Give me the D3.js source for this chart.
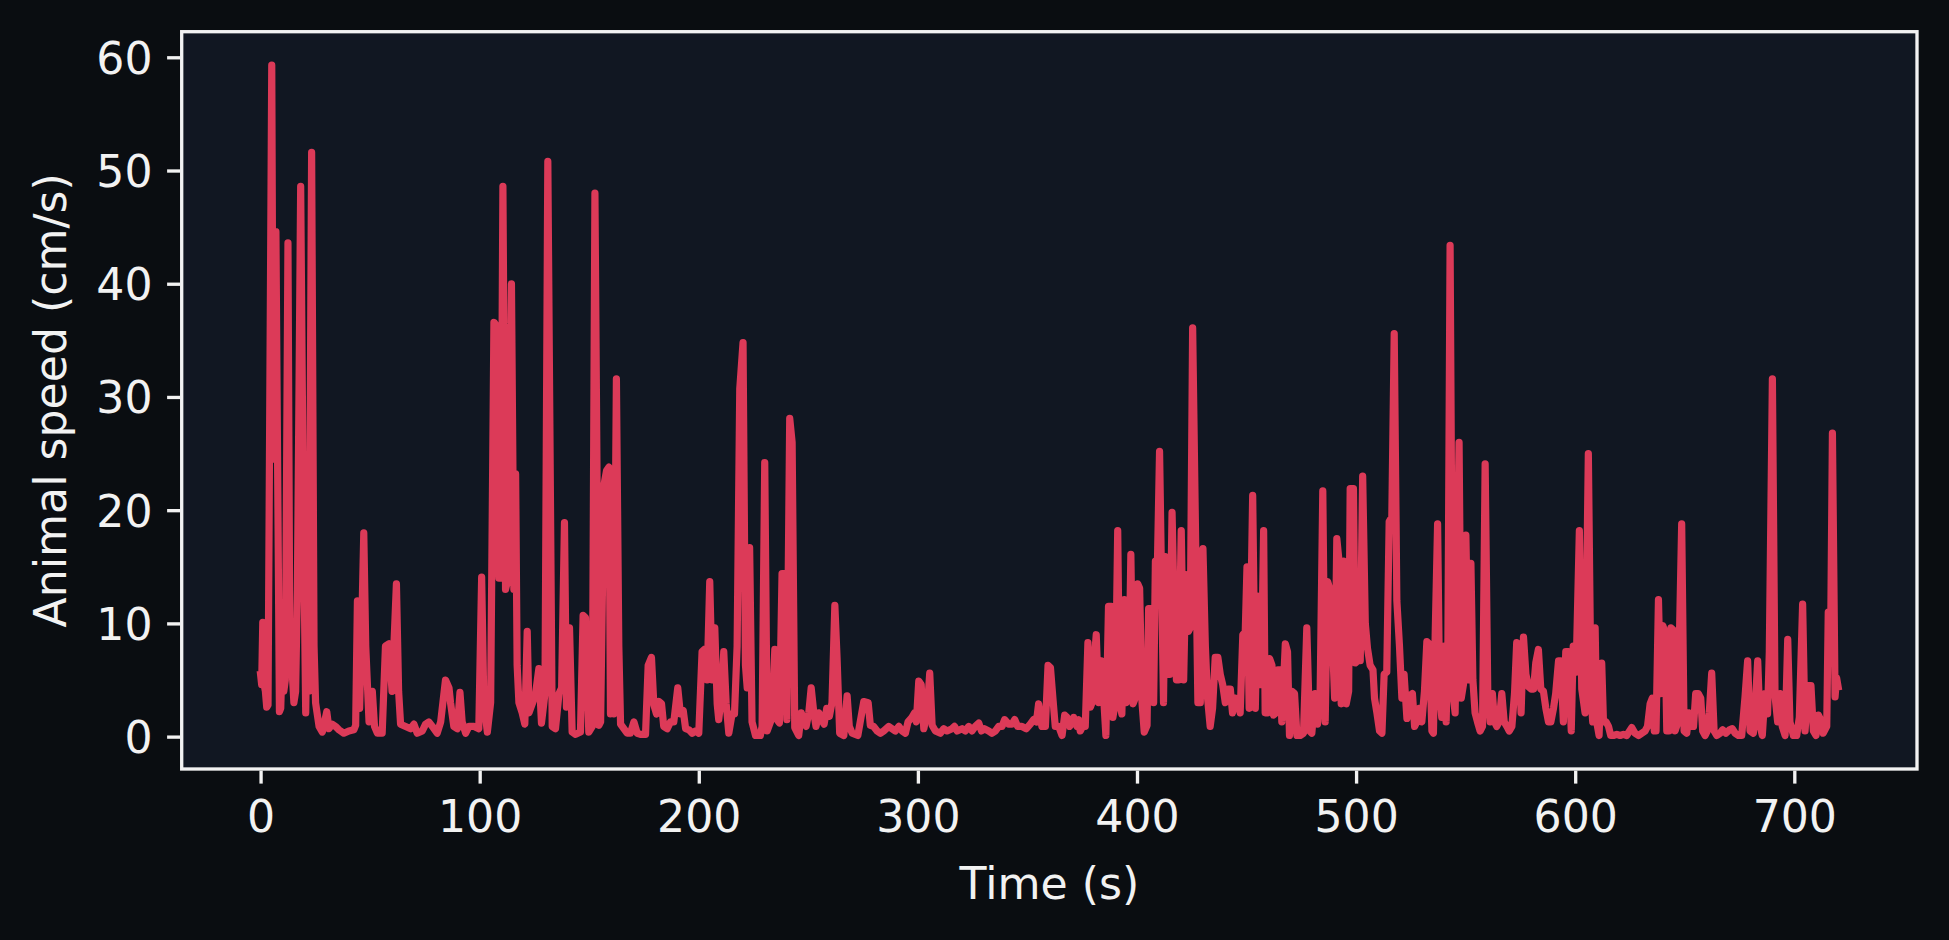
<!DOCTYPE html>
<html><head><meta charset="utf-8">
<script src="https://cdn.jsdelivr.net/npm/d3@7"></script>
<style>html,body{margin:0;padding:0;background:#0a0d11;} svg{display:block;}</style>
</head><body><svg id="chart" width="1949" height="940"></svg>
<script>
// Time (s) of each sample
const time = [
0.0,0.5,1.0,1.6,2.2,2.8,3.4,5.1,5.8,7.0,
8.6,9.2,9.9,10.6,11.3,12.5,13.4,14.5,15.2,16.0,
16.8,18.3,19.5,20.6,21.3,22.0,23.3,24.4,25.1,26.7,
28.2,30.2,31.2,32.7,34.2,35.8,38.0,40.3,42.6,43.4,
44.2,45.2,46.2,47.1,48.0,49.5,51.0,52.0,53.3,55.5,
57.0,58.6,60.0,62.0,63.0,63.9,66.2,68.5,70.0,71.5,
73.8,75.3,76.8,78.4,80.6,82.2,84.4,86.0,86.7,88.2,
89.8,91.0,92.0,93.6,95.1,97.5,99.6,100.9,101.9,103.5,
105.0,106.5,108.0,108.8,109.6,110.6,111.8,113.0,114.5,115.6,
116.4,117.1,117.9,119.4,120.6,121.7,122.5,124.0,125.5,127.0,
128.2,129.8,131.1,133.1,134.6,136.2,137.4,138.7,139.6,141.0,
142.2,143.8,146.0,147.2,148.3,149.8,151.4,152.6,154.4,155.2,
156.7,157.9,159.0,159.7,160.5,161.2,162.4,163.5,164.3,165.8,
167.3,168.8,170.4,171.9,173.4,175.7,176.9,178.4,179.5,180.7,
181.8,183.0,184.0,185.6,187.1,188.6,190.4,191.6,192.9,194.0,
195.5,197.0,198.5,200.0,201.5,202.6,203.8,205.0,206.1,207.3,
208.4,209.1,210.4,211.4,212.5,213.7,215.2,216.3,217.5,218.7,
220.2,221.3,222.1,223.2,224.3,225.9,228.1,228.9,230.1,231.2,
232.7,233.5,234.7,235.7,236.8,238.0,239.1,240.2,241.5,242.6,
243.8,245.6,246.8,247.9,249.0,250.2,251.3,252.5,253.5,254.8,
256.0,257.2,258.4,259.6,260.8,262.1,263.1,264.3,266.2,267.7,
268.7,270.0,272.6,275.3,277.3,278.3,279.8,281.4,282.9,284.4,
286.7,288.2,289.7,291.3,292.8,294.3,295.5,297.3,298.5,299.3,
300.4,301.5,302.7,304.2,305.4,306.5,308.0,310.3,311.8,313.3,
315.6,316.7,317.9,320.2,321.7,323.2,324.7,326.2,327.8,329.0,
330.3,332.3,333.8,335.4,336.9,338.4,339.6,341.4,343.0,344.2,
345.5,347.5,349.5,351.3,352.8,354.1,355.1,356.6,358.2,359.4,
360.5,361.7,362.7,364.3,365.8,367.0,368.1,369.3,371.1,372.6,
373.4,374.1,375.2,376.4,377.6,378.7,379.5,380.2,381.4,382.5,
383.7,384.8,385.8,387.0,388.3,389.0,390.1,391.2,392.1,393.1,
394.2,395.1,396.2,397.2,398.2,399.2,400.3,401.2,402.3,403.3,
404.6,405.3,406.4,407.6,408.4,409.2,410.3,411.2,412.1,412.9,
413.7,414.9,416.0,417.0,418.0,419.0,420.2,421.3,422.3,423.5,
424.3,425.4,427.8,428.9,430.1,431.2,432.2,433.4,434.5,435.7,
436.9,438.0,439.1,440.3,441.5,442.6,443.6,444.8,446.4,447.1,
448.3,449.4,450.2,451.2,452.8,454.0,455.0,455.9,456.7,457.8,
458.5,459.6,460.5,461.6,462.3,463.5,464.3,465.4,466.1,467.7,
468.7,469.6,470.7,471.9,473.0,474.5,476.0,477.5,478.8,479.8,
481.3,482.4,483.6,484.8,485.9,487.0,488.2,489.3,490.2,491.2,
492.3,493.2,494.3,495.5,496.6,497.3,498.8,499.6,500.7,501.9,
503.0,504.2,505.2,506.4,507.7,508.4,509.5,510.7,511.8,512.8,
514.0,515.1,516.3,517.4,518.6,519.8,520.9,521.9,523.2,524.4,
525.7,526.7,527.7,528.8,530.0,531.2,532.3,533.4,534.6,535.3,
536.1,537.2,538.1,539.1,540.3,541.1,541.9,542.9,544.1,545.2,
547.0,548.0,549.0,550.1,551.3,552.4,553.3,554.3,555.4,556.6,
557.7,558.9,560.1,561.2,562.2,563.2,564.2,565.3,566.5,567.6,
568.8,569.9,571.1,572.3,573.3,574.4,575.3,576.4,577.5,578.7,
579.9,581.0,582.0,583.2,584.3,585.5,586.6,587.8,588.9,590.1,
591.1,592.4,593.4,594.6,595.7,596.9,598.2,599.1,600.4,601.9,
603.0,604.5,606.0,607.2,608.0,609.1,609.8,610.9,612.1,612.9,
614.1,615.2,616.2,617.4,619.0,620.5,622.0,623.5,625.8,627.3,
628.9,630.4,631.9,633.0,634.2,635.2,636.1,636.9,638.0,639.0,
640.0,641.0,641.8,642.8,643.7,644.8,645.6,646.6,647.5,648.6,
649.7,650.9,652.0,652.9,654.0,655.0,656.2,657.3,658.2,659.3,
660.3,661.2,662.3,663.4,664.6,666.1,667.3,668.8,670.4,671.7,
673.0,674.5,676.0,677.5,678.7,679.8,681.3,682.4,683.3,684.4,
685.4,686.6,687.8,688.6,690.0,691.2,692.4,693.5,694.5,695.8,
697.0,698.0,699.6,701.1,702.3,703.8,704.9,706.4,707.6,708.7,
709.9,711.0,712.0,713.2,714.8,715.5,716.6,717.4,718.6,719.3,
720.0
];
// Animal speed (cm/s) at each sample
const speed = [
5.5,4.6,10.1,4.6,4.0,2.6,2.8,59.3,24.5,44.6,
2.2,2.5,7.2,4.0,5.0,43.6,5.5,5.5,3.0,4.0,
13.0,48.6,20.0,2.1,12.0,4.0,51.6,8.0,3.0,0.9,
0.4,2.2,0.7,1.1,0.9,0.6,0.3,0.5,0.6,1.0,
12.0,2.5,10.0,18.0,8.0,1.3,4.0,0.9,0.3,0.3,
8.0,8.2,4.0,13.5,4.0,1.1,0.9,0.7,1.1,0.3,
0.5,1.1,1.3,0.9,0.3,1.3,5.0,4.3,3.0,0.9,
0.7,3.9,1.3,0.3,0.9,0.9,0.7,14.1,3.0,0.4,
3.0,36.6,36.2,14.0,14.0,48.6,13.0,14.0,40.0,13.0,
23.2,6.3,3.0,2.1,1.1,9.3,2.1,2.9,3.8,6.0,
1.2,3.8,50.8,0.9,0.7,3.8,4.3,18.9,2.6,9.6,
0.4,0.2,0.4,10.7,10.5,0.4,0.9,48.0,1.0,1.3,
22.2,23.5,23.8,2.0,3.5,2.0,31.6,8.0,1.1,0.7,
0.3,0.3,1.3,0.3,0.2,0.2,6.3,7.0,2.8,2.0,
3.1,2.9,0.9,0.7,1.3,1.3,4.3,2.0,2.3,0.7,
0.6,0.3,0.5,0.3,7.5,7.7,5.0,13.7,5.0,9.6,
2.9,1.5,3.7,7.5,2.9,0.3,2.0,2.0,8.0,30.7,
34.8,6.3,4.3,16.7,1.3,0.1,0.1,0.9,24.2,0.5,
1.3,2.0,7.7,1.5,1.2,14.4,14.4,1.5,28.1,26.0,
0.8,0.1,2.1,1.3,0.9,2.1,4.3,2.1,0.9,2.1,
1.5,1.1,2.5,1.8,3.0,11.6,7.0,0.3,0.1,3.6,
0.9,0.3,0.1,3.1,3.0,1.0,0.9,0.5,0.3,0.5,
0.9,0.7,0.5,0.9,0.5,0.3,1.3,1.7,2.1,1.3,
4.9,4.6,0.7,2.1,5.6,1.0,0.5,0.3,0.7,0.5,
0.7,0.9,0.5,0.7,0.5,0.9,0.5,0.9,1.2,0.5,
0.7,0.5,0.3,0.5,0.9,0.9,1.5,1.1,1.1,1.5,
0.9,0.9,0.7,1.1,1.5,1.3,2.9,0.9,0.9,6.3,
6.1,3.2,0.9,0.9,0.1,1.9,1.7,0.9,1.7,0.9,
1.5,0.5,0.9,0.9,8.3,2.6,3.0,6.0,9.0,3.0,
6.7,3.4,0.1,11.5,11.5,1.7,3.0,18.2,3.0,2.0,
12.1,3.0,3.4,16.1,2.9,3.4,13.5,13.1,3.0,0.4,
1.0,11.3,11.3,3.0,15.5,14.0,25.2,14.0,3.0,15.9,
5.5,5.5,19.8,11.0,5.0,5.0,18.2,5.0,14.3,9.3,
9.6,36.1,3.0,3.0,16.6,8.0,3.4,0.9,2.5,7.0,
7.0,5.5,4.6,3.0,4.2,4.2,2.1,3.4,2.9,2.1,
9.0,9.2,15.0,2.5,21.3,2.5,12.4,4.6,4.6,18.2,
2.1,2.1,6.9,6.3,1.9,2.1,5.9,5.9,1.3,8.2,
7.5,0.1,4.0,3.8,0.1,0.1,0.3,9.6,0.5,0.3,
3.8,1.1,4.0,21.7,1.3,13.7,12.9,8.0,3.4,17.5,
15.3,2.9,15.5,2.9,4.0,21.9,21.9,6.5,6.7,6.7,
23.0,10.0,7.8,6.3,5.9,3.4,2.1,0.5,0.3,5.5,
5.7,19.0,19.4,35.6,12.0,8.0,3.4,5.5,1.6,3.6,
3.8,0.9,1.3,2.5,1.3,4.0,8.4,8.2,0.5,0.3,
9.0,18.8,4.0,1.7,8.0,1.3,8.0,43.4,4.0,2.1,
26.0,3.4,4.6,17.8,5.0,15.3,5.0,2.1,1.3,0.5,
0.9,24.1,3.8,1.3,3.8,1.3,0.9,1.3,3.8,1.3,
0.9,0.5,0.9,3.8,8.3,8.1,2.1,8.8,5.5,4.4,
4.2,4.2,6.5,7.7,4.2,4.0,2.5,1.3,1.3,2.5,
3.8,6.7,6.7,1.3,7.5,7.5,0.5,8.0,5.7,18.2,
4.2,2.1,25.0,3.6,1.3,9.6,1.3,0.1,6.5,1.3,
1.3,0.9,0.1,0.1,0.2,0.1,0.2,0.1,0.8,0.3,
0.1,0.3,0.5,0.9,2.9,3.4,0.5,0.5,12.1,3.8,
9.8,9.2,0.5,0.5,9.6,9.4,0.5,1.1,8.0,18.8,
0.5,0.3,2.1,0.9,0.9,3.8,3.8,3.4,0.5,0.1,
0.5,2.1,5.6,0.5,0.1,0.3,0.6,0.3,0.6,0.7,
0.3,0.1,0.1,3.5,6.7,0.5,0.3,3.5,6.7,0.9,
0.1,3.8,2.0,7.5,31.6,3.6,1.3,3.8,0.9,0.1,
8.6,1.3,0.1,0.1,1.7,11.7,0.5,4.5,4.5,0.5,
0.1,1.9,1.5,0.3,0.9,11.0,9.0,26.8,3.5,5.2,
4.4
];
const xTicks = [0, 100, 200, 300, 400, 500, 600, 700];
const yTicks = [0, 10, 20, 30, 40, 50, 60];
const xLabel = "Time (s)";
const yLabel = "Animal speed (cm/s)";

const FIG_BG = "#0a0d11", AX_BG = "#111722", LINE = "#dc3a58", FG = "#f2f2f2";
const FONT = "DejaVu Sans", FS = 44.2;
const box = {left: 181.7, right: 1917, top: 31.7, bottom: 769};
const TICK = 14.6, PADT = 14.6, SPINE = 3.33;

const padExtent = e => { const r = e[1] - e[0]; return [e[0] - 0.05 * r, e[1] + 0.05 * r]; };
const x = d3.scaleLinear().domain(padExtent(d3.extent(time))).range([box.left, box.right]);
const y = d3.scaleLinear().domain(padExtent(d3.extent(speed))).range([box.bottom, box.top]);

const svg = d3.select("#chart");
svg.append("rect").attr("width", 1949).attr("height", 940).attr("fill", FIG_BG);
svg.append("rect").attr("x", box.left).attr("y", box.top)
  .attr("width", box.right - box.left).attr("height", box.bottom - box.top).attr("fill", AX_BG);

const pts = time.map((t, i) => [t, speed[i]]);
svg.append("path").datum(pts)
  .attr("d", d3.line().x(d => x(d[0])).y(d => y(d[1])))
  .attr("fill", "none").attr("stroke", LINE).attr("stroke-width", 7.2)
  .attr("stroke-linejoin", "round").attr("stroke-linecap", "square");

svg.append("rect").attr("x", box.left).attr("y", box.top)
  .attr("width", box.right - box.left).attr("height", box.bottom - box.top)
  .attr("fill", "none").attr("stroke", FG).attr("stroke-width", SPINE);

const gx = svg.append("g").attr("transform", `translate(0,${box.bottom})`)
  .call(d3.axisBottom(x).tickValues(xTicks).tickSize(TICK).tickPadding(PADT).tickFormat(d3.format("d")));
const gy = svg.append("g").attr("transform", `translate(${box.left},0)`)
  .call(d3.axisLeft(y).tickValues(yTicks).tickSize(TICK).tickPadding(PADT).tickFormat(d3.format("d")));
[gx, gy].forEach(g => {
  g.select(".domain").remove();
  g.selectAll(".tick line").attr("stroke", FG).attr("stroke-width", SPINE);
  g.selectAll(".tick text").attr("fill", FG).attr("font-family", FONT).attr("font-size", FS);
});
gx.selectAll(".tick line").attr("y1", SPINE / 2);
gx.selectAll(".tick text").attr("dy", "0.76em");
gy.selectAll(".tick line").attr("x1", -SPINE / 2);
gy.selectAll(".tick text").attr("dy", "0.36em");

svg.append("text").attr("x", (box.left + box.right) / 2).attr("y", 899)
  .attr("text-anchor", "middle").attr("fill", FG)
  .attr("font-family", FONT).attr("font-size", FS).text(xLabel);
svg.append("text").attr("transform", `translate(66,${(box.top + box.bottom) / 2}) rotate(-90)`)
  .attr("text-anchor", "middle").attr("fill", FG)
  .attr("font-family", FONT).attr("font-size", FS).text(yLabel);
</script></body></html>
